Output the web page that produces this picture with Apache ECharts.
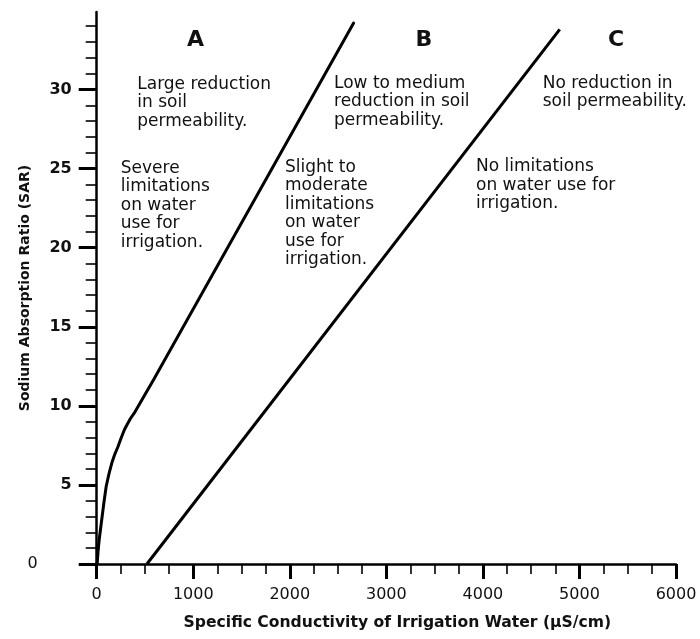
<!DOCTYPE html>
<html>
<head>
<meta charset="utf-8">
<script src="https://cdn.jsdelivr.net/npm/echarts@6/dist/echarts.min.js"></script>
<style>
  html, body { margin: 0; padding: 0; background: #fff; }
  #chart { width: 700px; height: 639px; }
</style>
</head>
<body>
<div id="chart"></div>
<script>
// Boundary between classes A and B (EC in µS/cm, SAR): curved near the origin, straight above SAR ~10
const boundaryAB = [
  [5, 0], [14, 0.8], [27, 1.6], [52, 2.8], [75, 3.9], [98, 4.9], [127, 5.7],
  [157, 6.4], [188, 6.95], [219, 7.4], [252, 7.95], [288, 8.5], [318, 8.85],
  [350, 9.2], [390, 9.55], [433, 10.0], [589, 11.65], [2661, 34.2]
];
// Boundary between classes B and C
const boundaryBC = [[520, 0], [4796, 33.8]];

// Axis ticks
const xMax = 6000;
const xStep = 1000;
const yMax = 34.9;
const yMajorTicks = [0, 5, 10, 15, 20, 25, 30];
const yMinorTicks = [1, 2, 3, 4, 6, 7, 8, 9, 11, 12, 13, 14, 16, 17, 18, 19,
                     21, 22, 23, 24, 26, 27, 28, 29, 31, 32, 33, 34];

// Class letters, anchored in data space (EC, SAR)
const classNames = ['A', 'B', 'C'];
const classAnchorEC = [1023, 3390, 5379];
const classAnchorSAR = [33.1, 33.1, 33.1];

// Descriptions of each class, anchored at their top-left corner in data space
const noteTexts = [
  'Large reduction\nin soil\npermeability.',
  'Severe\nlimitations\non water\nuse for\nirrigation.',
  'Low to medium\nreduction in soil\npermeability.',
  'Slight to\nmoderate\nlimitations\non water\nuse for\nirrigation.',
  'No reduction in\nsoil permeability.',
  'No limitations\non water use for\nirrigation.'
];
const noteAnchorEC = [420, 249, 2458, 1950, 4619, 3929];
const noteAnchorSAR = [30.92, 25.6, 30.97, 25.65, 30.97, 25.7];

const FONT = 'DejaVu Sans';
const INK = '#111';

const chart = echarts.init(document.getElementById('chart'), null, { renderer: 'canvas' });

chart.setOption({
  animation: false,
  backgroundColor: '#fff',
  grid: { left: 96.7, right: 24, top: 12, bottom: 75, containLabel: false, outerBoundsMode: 'none' },
  xAxis: {
    type: 'value',
    min: 0,
    max: xMax,
    interval: xStep,
    name: 'Specific Conductivity of Irrigation Water (µS/cm)',
    nameLocation: 'middle',
    nameGap: 51,
    nameMoveOverlap: false,
    nameTextStyle: { fontFamily: FONT, fontWeight: 'bold', fontSize: 15.6, color: INK, padding: [0, 0, 0, 22] },
    axisLine: { show: true, onZero: false, lineStyle: { color: '#000', width: 2.5 } },
    axisTick: { show: true, inside: false, length: 15, lineStyle: { color: '#000', width: 3 } },
    minorTick: { show: true, splitNumber: 4, length: 10, lineStyle: { color: '#000', width: 1.6 } },
    axisLabel: { margin: 23, fontFamily: FONT, fontSize: 16, color: INK, formatter: v => String(v) },
    splitLine: { show: false },
    minorSplitLine: { show: false }
  },
  yAxis: [
    {
      type: 'value',
      min: 0,
      max: yMax,
      position: 'left',
      name: 'Sodium Absorption Ratio (SAR)',
      nameLocation: 'middle',
      nameGap: 64,
      nameMoveOverlap: false,
      nameTextStyle: { fontFamily: FONT, fontWeight: 'bold', fontSize: 14, color: INK },
      axisLine: { show: true, onZero: false, lineStyle: { color: '#000', width: 2.5 } },
      axisTick: { show: true, inside: false, length: 18, customValues: yMajorTicks,
                  lineStyle: { color: '#000', width: 3 } },
      axisLabel: {
        customValues: yMajorTicks,
        margin: 25,
        fontFamily: FONT, fontSize: 16, fontWeight: 'bold', color: INK,
        formatter: v => (v === 0 ? '{origin|0}' : String(v)),
        rich: {
          origin: { fontFamily: FONT, fontSize: 16, fontWeight: 'normal', color: INK, padding: [0, 34, 0, 0] }
        }
      },
      splitLine: { show: false }
    },
    {
      // minor ticks every 1 SAR unit
      type: 'value',
      min: 0,
      max: yMax,
      position: 'left',
      axisLine: { show: false },
      axisTick: { show: true, inside: false, length: 11, customValues: yMinorTicks,
                  lineStyle: { color: '#000', width: 1.6 } },
      axisLabel: { show: false },
      splitLine: { show: false }
    }
  ],
  series: [
    {
      name: 'A/B boundary',
      type: 'line',
      data: boundaryAB,
      showSymbol: false,
      silent: true,
      lineStyle: { color: '#000', width: 3, join: 'round', cap: 'round' }
    },
    {
      name: 'B/C boundary',
      type: 'line',
      data: boundaryBC,
      showSymbol: false,
      silent: true,
      lineStyle: { color: '#000', width: 3 }
    },
    {
      name: 'classes',
      type: 'scatter',
      symbolSize: 0,
      silent: true,
      itemStyle: { opacity: 1 },
      data: classNames.map((n, i) => ({ name: n, value: [classAnchorEC[i], classAnchorSAR[i]] })),
      label: {
        show: true,
        position: 'inside',
        formatter: p => p.name,
        opacity: 1,
        fontFamily: FONT, fontSize: 22, fontWeight: 'bold', color: INK
      }
    },
    {
      name: 'notes',
      type: 'scatter',
      symbolSize: 0,
      silent: true,
      itemStyle: { opacity: 1 },
      data: noteTexts.map((t, i) => ({ name: t, value: [noteAnchorEC[i], noteAnchorSAR[i]] })),
      label: {
        show: true,
        position: [0, 0],
        align: 'left',
        verticalAlign: 'top',
        formatter: p => p.name,
        opacity: 1,
        fontFamily: FONT, fontSize: 17, lineHeight: 18.5, color: INK
      }
    }
  ]
});
</script>
</body>
</html>
